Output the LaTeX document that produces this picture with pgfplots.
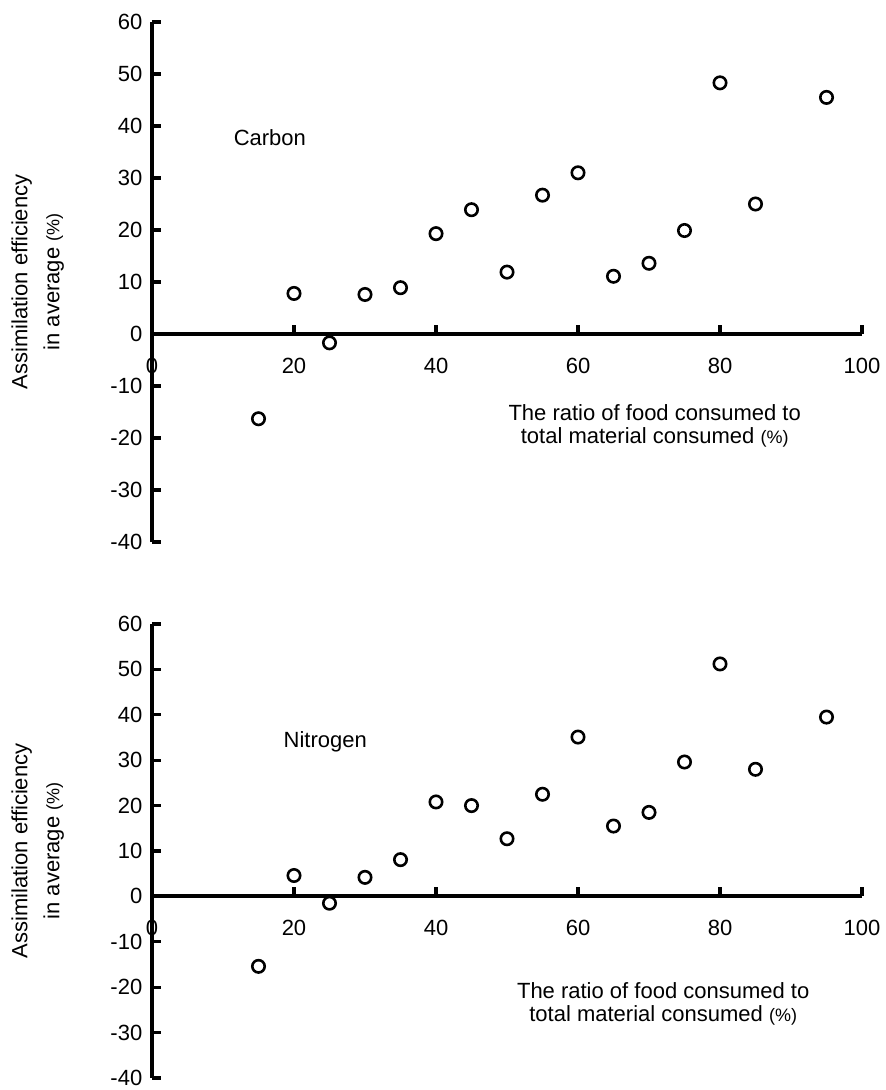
\documentclass[border=0pt]{standalone}
\usepackage{fontspec}
\setmainfont{Liberation Sans}
\usepackage{pgfplots}
\pgfplotsset{compat=1.18}
\begin{document}
\fontsize{11}{13}\selectfont
\begin{tikzpicture}
\pgfplotsset{
  panel/.style={
    scale only axis, width=355pt,
    xmin=0, xmax=100, ymin=-40, ymax=60,
    axis x line=middle, axis y line=left,
    axis line style={line width=2pt, -},
    xtick={0,20,40,60,80,100},
    ytick={-40,-30,...,60},
    tick align=inside,
    major tick length=4.5pt,
    tick style={line width=1.6pt, black},
    /pgf/number format/assume math mode=true,
    ticklabel style={font=\fontsize{11}{13}\selectfont},
    xticklabel style={yshift=-8pt},
    yticklabel style={xshift=-1pt},
    hide obscured x ticks=false,
    clip=false,
    ylabel={Assimilation efficiency\\in average {\fontsize{9}{10}\selectfont(\%)}},
    ylabel style={align=center, at={(axis description cs:-0.161,0.5)}, anchor=center, font=\fontsize{11}{16}\selectfont},
    xlabel={The ratio of food consumed to\\total material consumed {\fontsize{9}{10}\selectfont(\%)}},
    xlabel style={align=center, anchor=center, font=\fontsize{11}{11.5}\selectfont},
  },
  pts/.style={only marks, mark=o, mark size=3.1pt, mark options={line width=1.3pt, black}},
}
\begin{axis}[panel, height=260pt, at={(0pt,0pt)}, anchor=south west,
  xlabel style={at={(axis cs:70.8,-17.7)}}]
\addplot[pts] coordinates {
(15,-16.3) (20,7.8) (25,-1.7) (30,7.6) (35,8.9) (40,19.3) (45,23.9) (50,11.9)
(55,26.7) (60,31.0) (65,11.1) (70,13.6) (75,19.9) (80,48.3) (85,25.0) (95,45.5)
};
\node at (axis cs:16.6,37.7) {Carbon};
\end{axis}
\begin{axis}[panel, height=227pt, at={(0pt,-41pt)}, anchor=north west,
  xlabel style={at={(axis cs:72,-23.6)}}]
\addplot[pts] coordinates {
(15,-15.4) (20,4.6) (25,-1.5) (30,4.2) (35,8.1) (40,20.8) (45,20.0) (50,12.7)
(55,22.5) (60,35.1) (65,15.5) (70,18.5) (75,29.6) (80,51.2) (85,28.0) (95,39.5)
};
\node at (axis cs:24.4,34.1) {Nitrogen};
\end{axis}
\pgfresetboundingbox
\path[use as bounding box] (-76pt,-274pt) rectangle (367pt,271pt);
\end{tikzpicture}
\end{document}
